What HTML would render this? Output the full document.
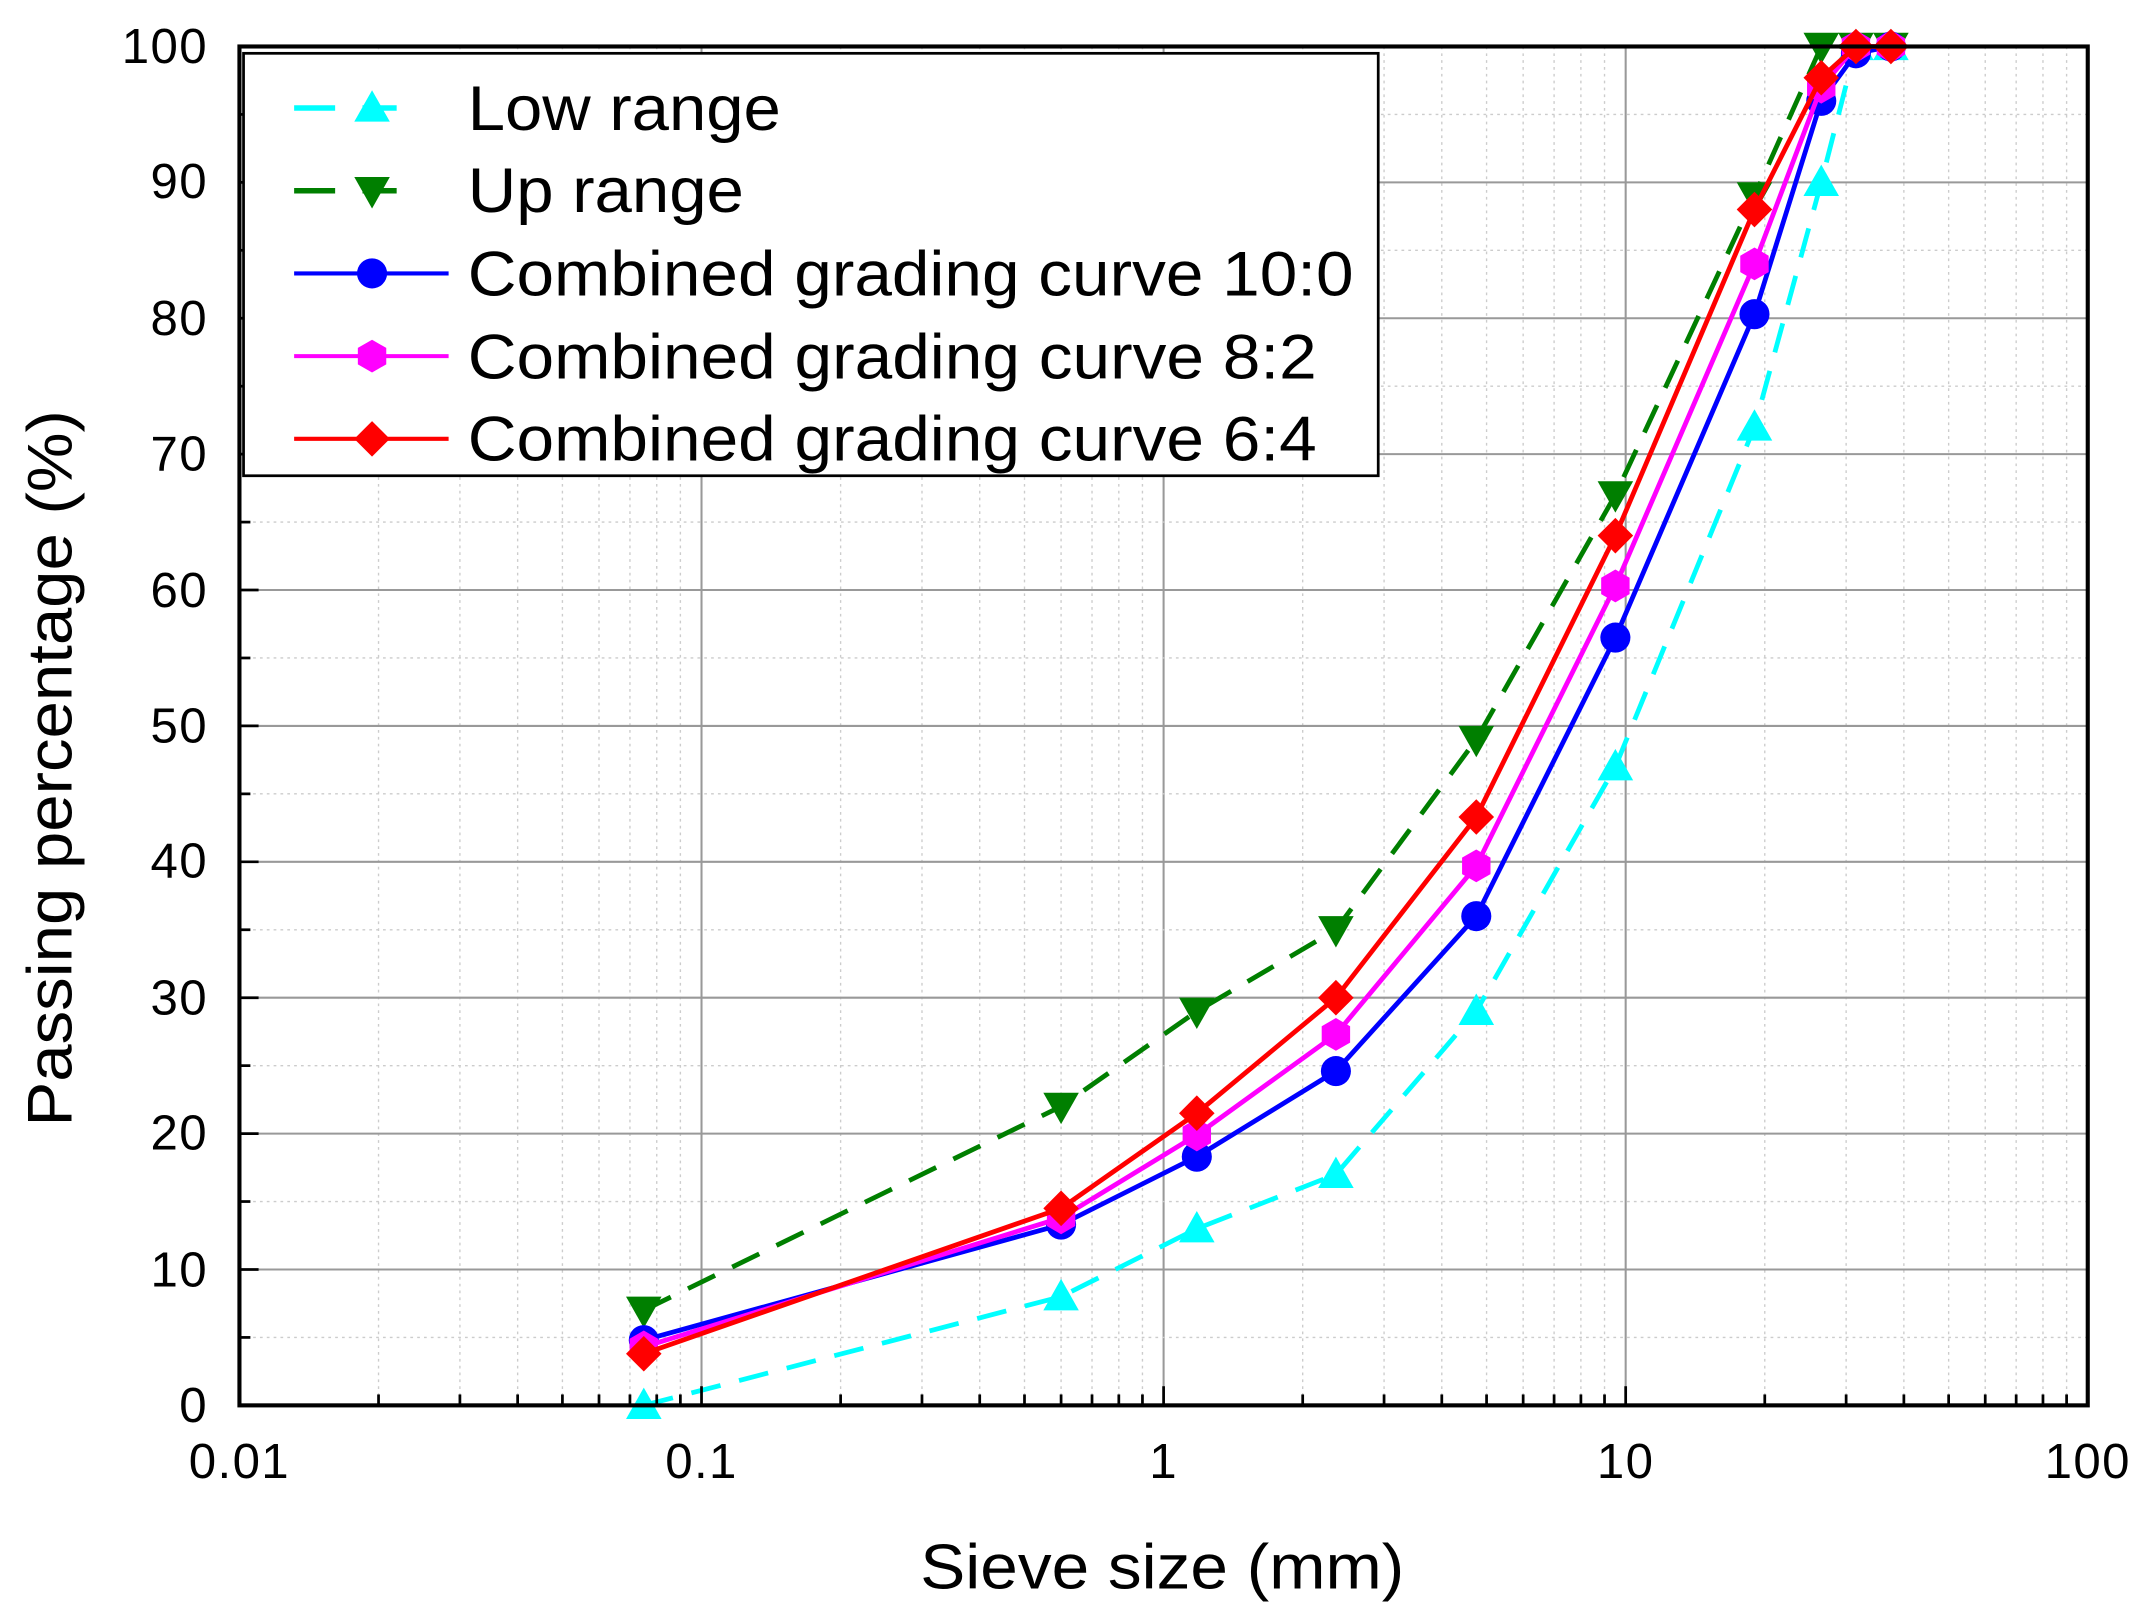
<!DOCTYPE html>
<html><head><meta charset="utf-8"><style>html,body{margin:0;padding:0;background:#fff}svg{display:block}</style></head>
<body>
<svg id="s" width="2144" height="1620" viewBox="0 0 1568 1185" xmlns="http://www.w3.org/2000/svg" font-family="Liberation Sans, Arial, sans-serif">
<rect width="1568" height="1185" fill="#fff"/>
<g id="grid"></g>
<g id="series"></g>
<rect x="175" y="34" width="1352" height="994" fill="none" stroke="#000" stroke-width="3"/>
<g id="ticks"></g>
<g font-size="36" fill="#000" text-anchor="end" letter-spacing="1">
<text x="152" y="1040">0</text><text x="152" y="941">10</text><text x="152" y="841">20</text><text x="152" y="742">30</text><text x="152" y="642">40</text><text x="152" y="543">50</text><text x="152" y="444">60</text><text x="152" y="344">70</text><text x="152" y="245">80</text><text x="152" y="145">90</text><text x="152" y="46">100</text>
</g>
<g font-size="36" fill="#000" text-anchor="middle" letter-spacing="1">
<text x="175" y="1081">0.01</text><text x="513" y="1081">0.1</text><text x="851" y="1081">1</text><text x="1189" y="1081">10</text><text x="1527" y="1081">100</text>
</g>
<text x="673" y="1162" font-size="46" textLength="354" lengthAdjust="spacingAndGlyphs">Sieve size (mm)</text>
<text transform="translate(52,824) rotate(-90)" font-size="46" textLength="524" lengthAdjust="spacingAndGlyphs">Passing percentage (%)</text>
<rect x="178" y="39" width="830" height="309" fill="#fff" stroke="#000" stroke-width="2"/>
<g id="legend" font-size="46" fill="#000">
<text x="342" y="95" textLength="229" lengthAdjust="spacingAndGlyphs">Low range</text>
<text x="342" y="155" textLength="202" lengthAdjust="spacingAndGlyphs">Up range</text>
<text x="342" y="216" textLength="648" lengthAdjust="spacingAndGlyphs">Combined grading curve 10:0</text>
<text x="342" y="277" textLength="621" lengthAdjust="spacingAndGlyphs">Combined grading curve 8:2</text>
<text x="342" y="337" textLength="621" lengthAdjust="spacingAndGlyphs">Combined grading curve 6:4</text>
</g>
</svg>
<script>
var NS="http://www.w3.org/2000/svg";
function X(v){return 175+338*(Math.log10(v)+2);}
function Y(v){return 1028-9.94*v;}
function el(p,t,a){var e=document.createElementNS(NS,t);for(var k in a)e.setAttribute(k,a[k]);p.appendChild(e);return e;}
var g=document.getElementById('grid'),tk=document.getElementById('ticks');
for(var d=-2;d<2;d++)for(var m=1;m<10;m++){var x=X(m*Math.pow(10,d));
 if(m==1){if(d>-2)el(g,'line',{x1:x,x2:x,y1:34,y2:1028,stroke:'#999','stroke-width':1.5});}
 else el(g,'line',{x1:x,x2:x,y1:34,y2:1028,stroke:'#ccc','stroke-width':1,'stroke-dasharray':'2,3'});
 el(tk,'line',{x1:x,x2:x,y1:1028,y2:m==1?1014:1020,stroke:'#000','stroke-width':2});}
for(var v=5;v<100;v+=5){var y=Y(v);
 if(v%10==0)el(g,'line',{x1:175,x2:1527,y1:y,y2:y,stroke:'#999','stroke-width':1.5});
 else el(g,'line',{x1:175,x2:1527,y1:y,y2:y,stroke:'#ccc','stroke-width':1,'stroke-dasharray':'2,3'});
 el(tk,'line',{x1:175,x2:v%10==0?189:183,y1:y,y2:y,stroke:'#000','stroke-width':2});}
var xs=[0.075,0.6,1.18,2.36,4.75,9.5,19,26.5,31.5,37.5];
var S=[
{c:'#00ffff',d:'22,14',m:'up',v:[0,8,13,17,29,47,72,90,100,100]},
{c:'#007f00',d:'22,14',m:'down',v:[7,22,29,35,49,67,89,100,100,100]},
{c:'#0000ff',d:null,m:'circ',v:[4.8,13.3,18.3,24.6,36,56.5,80.3,96,99.5,100]},
{c:'#ff00ff',d:null,m:'hex',v:[4.3,13.8,19.9,27.3,39.7,60.3,84,97,100,100]},
{c:'#ff0000',d:null,m:'dia',v:[3.8,14.5,21.5,30,43.3,64,88,97.7,100,100]}];
function mark(p,t,x,y,c){
 if(t=='circ')el(p,'circle',{cx:x,cy:y,r:11,fill:c});
 else if(t=='up')el(p,'polygon',{points:(x)+','+(y-13)+' '+(x+13)+','+(y+10)+' '+(x-13)+','+(y+10),fill:c});
 else if(t=='down')el(p,'polygon',{points:(x)+','+(y+13)+' '+(x+13)+','+(y-10)+' '+(x-13)+','+(y-10),fill:c});
 else if(t=='dia')el(p,'polygon',{points:x+','+(y-13)+' '+(x+13)+','+y+' '+x+','+(y+13)+' '+(x-13)+','+y,fill:c});
 else {var pts=[];for(var i=0;i<6;i++){var a=Math.PI/3*i+Math.PI/2;pts.push((x+12*Math.cos(a))+','+(y+12*Math.sin(a)));}el(p,'polygon',{points:pts.join(' '),fill:c});}}
var sg=document.getElementById('series');
S.forEach(function(s){var pts=xs.map(function(x,i){return X(x)+','+Y(s.v[i]);}).join(' ');
 var a={points:pts,fill:'none',stroke:s.c,'stroke-width':3.5};if(s.d)a['stroke-dasharray']=s.d;el(sg,'polyline',a);
 xs.forEach(function(x,i){mark(sg,s.m,X(x),Y(s.v[i]),s.c);});});
var lg=document.getElementById('legend');
S.forEach(function(s,i){var y=79+i*60.5;
 if(s.d){el(lg,'line',{x1:215,x2:245,y1:y,y2:y,stroke:s.c,'stroke-width':4});el(lg,'line',{x1:265,x2:290,y1:y,y2:y,stroke:s.c,'stroke-width':4});}
 else el(lg,'line',{x1:215,x2:328,y1:y,y2:y,stroke:s.c,'stroke-width':3});
 mark(lg,s.m,272,y,s.c);});
</script>
</body></html>
